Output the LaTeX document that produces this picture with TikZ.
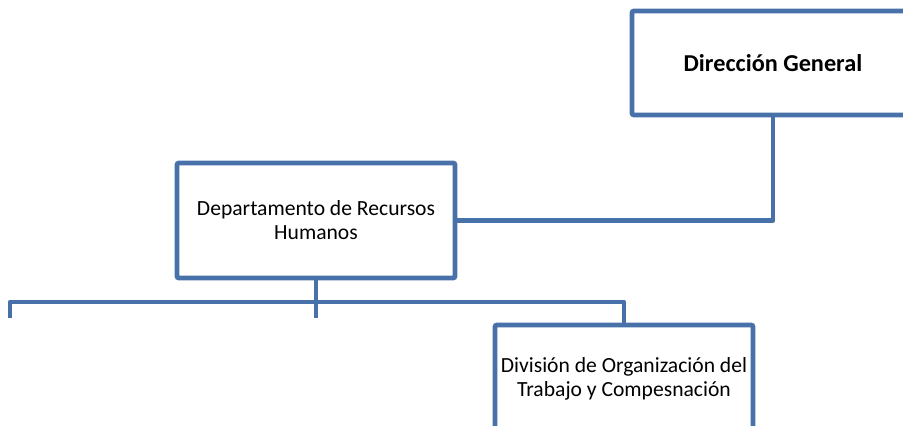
\documentclass[tikz,border=0pt]{standalone}
\usepackage{fontspec}
\setmainfont{Carlito}
\definecolor{orgblue}{HTML}{4771A8}
\begin{document}
\begin{tikzpicture}[x=0.75pt,y=-0.75pt,
  orgbox/.style={draw=orgblue, line width=3.6pt, rounded corners=1.5pt, fill=white, align=center, inner sep=0pt, font=\fontsize{16.2pt}{18pt}\selectfont},
  link/.style={draw=orgblue, line width=3.6pt, line join=round}]
\useasboundingbox (0,0) rectangle (903,425);
\clip (0,0) rectangle (903,425);
\node[orgbox, minimum width=282*0.75pt, minimum height=104*0.75pt, font=\fontsize{18.2pt}{20pt}\selectfont\bfseries] (dg) at (773,63) {Dirección General};
\node[orgbox, minimum width=278*0.75pt, minimum height=115*0.75pt] (dep) at (316,220.5) {Departamento de Recursos\\Humanos};
\node[orgbox, minimum width=258*0.75pt, minimum height=107*0.75pt] (div) at (624,378.5) {División de Organización del\\Trabajo y Compesnación};
\coordinate (busl) at (10,302);
\coordinate (busm) at (316,302);
\coordinate (busr) at (624,302);
\coordinate (endl) at (10,318);
\coordinate (endm) at (316,318);
\draw[link] (dg.south) |- (dep.east);
\draw[link] (dep.south) -- (busm);
\draw[link] (endl) -- (busl) -- (busr) -- (div.north);
\draw[link] (busm) -- (endm);
\end{tikzpicture}
\end{document}
